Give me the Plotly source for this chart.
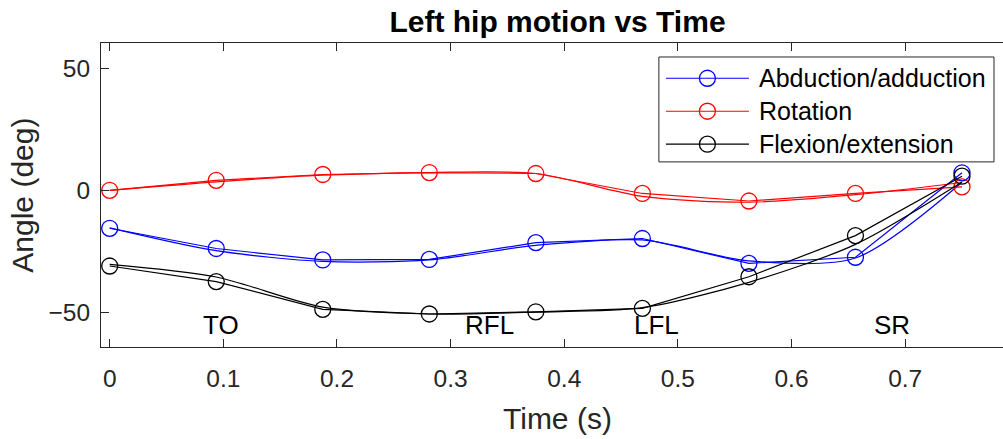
import plotly.graph_objects as go

# ---------------- data ----------------
time_s = [0.0, 0.09375, 0.1875, 0.28125, 0.375, 0.46875, 0.5625, 0.65625, 0.75]

abd_add = [-15.6, -23.9, -28.6, -28.4, -21.5, -19.8, -30.0, -27.5, 7.2]
rotation = [0.0, 4.1, 6.5, 7.3, 6.9, -1.3, -4.4, -1.3, 1.4]
flex_ext = [-31.1, -37.5, -48.9, -50.8, -49.9, -48.5, -35.5, -18.6, 5.8]

# companion (second) trace of each angle
abd_add_2 = [-15.4, -24.8, -29.2, -28.6, -22.6, -20.4, -29.0, -27.8, 3.3]
rotation_2 = [0.0, 3.5, 6.2, 7.3, 6.9, -2.5, -4.9, -1.8, 3.2]
flex_ext_2 = [-30.4, -35.6, -48.0, -50.8, -50.0, -48.2, -37.8, -22.2, 3.4]

series_names = ["Abduction/adduction", "Rotation", "Flexion/extension"]
series_colors = ["#0000ff", "#ff0000", "#000000"]

event_labels = ["TO", "RFL", "LFL", "SR"]
event_times = [0.0977, 0.334, 0.481, 0.688]
event_angles = [-55.5, -55.5, -55.5, -55.5]

x_ticks = [0, 0.1, 0.2, 0.3, 0.4, 0.5, 0.6, 0.7]
x_tick_text = ["0", "0.1", "0.2", "0.3", "0.4", "0.5", "0.6", "0.7"]
y_ticks = [-50, 0, 50]
y_tick_text = ["\u221250", "0", "50"]

# ---------------- layout geometry ----------------
W, H = 1003, 439
L_PX, R_PX, T_PX, B_PX = 101.3, 1003.0, 42.7, 347.0
FONT = "Liberation Sans, Arial, Helvetica, sans-serif"
AX_COL = "#262626"


def px2paper(px, py):
    return (px - L_PX) / (R_PX - L_PX), (B_PX - py) / (B_PX - T_PX)


fig = go.Figure()

main = [abd_add, rotation, flex_ext]
second = [abd_add_2, rotation_2, flex_ext_2]

for name, col, y1, y2 in zip(series_names, series_colors, main, second):
    fig.add_trace(go.Scatter(
        x=time_s, y=y2, mode="lines", name=name + " (2)",
        line=dict(color=col, width=1.2, shape="spline", smoothing=0.8),
        showlegend=False, hoverinfo="skip"))
    fig.add_trace(go.Scatter(
        x=time_s, y=y1, mode="lines+markers", name=name,
        line=dict(color=col, width=1.2),
        marker=dict(symbol="circle-open", size=16, color=col,
                    line=dict(color=col, width=1.3)),
        showlegend=False))

annotations = []
for lab, t, a in zip(event_labels, event_times, event_angles):
    annotations.append(dict(x=t, y=a, xref="x", yref="y", text=lab,
                            showarrow=False, xanchor="center", yanchor="middle",
                            font=dict(family=FONT, size=26, color="#000000")))

# axis titles
xl, yl = px2paper((L_PX + 1014) / 2, 419)
annotations.append(dict(x=xl, y=yl, xref="paper", yref="paper", text="Time (s)",
                        showarrow=False, xanchor="center", yanchor="middle",
                        font=dict(family=FONT, size=30, color=AX_COL)))
xa, ya = px2paper(22, (T_PX + B_PX) / 2)
annotations.append(dict(x=xa, y=ya, xref="paper", yref="paper", text="Angle (deg)",
                        showarrow=False, xanchor="center", yanchor="middle",
                        textangle=-90,
                        font=dict(family=FONT, size=30, color=AX_COL)))

# manual legend (MATLAB style)
shapes = []
bx0, by0 = px2paper(659, 56.7)
bx1, by1 = px2paper(994, 161.7)
shapes.append(dict(type="rect", xref="paper", yref="paper", x0=bx0, y0=by0,
                   x1=bx1, y1=by1, line=dict(color=AX_COL, width=1),
                   fillcolor="white", layer="above"))
row_y = [78, 111, 144]
for name, col, ry in zip(series_names, series_colors, row_y):
    lx0, ly = px2paper(666, ry)
    lx1, _ = px2paper(749, ry)
    mx, _ = px2paper(707.5, ry)
    tx, _ = px2paper(757, ry)
    shapes.append(dict(type="line", xref="paper", yref="paper", x0=lx0, x1=lx1,
                       y0=ly, y1=ly, line=dict(color=col, width=1.2), layer="above"))
    shapes.append(dict(type="circle", xref="paper", yref="paper",
                       xsizemode="pixel", ysizemode="pixel",
                       xanchor=mx, yanchor=ly, x0=-8, x1=8, y0=-8, y1=8,
                       line=dict(color=col, width=1.3), fillcolor="rgba(0,0,0,0)",
                       layer="above"))
    annotations.append(dict(x=tx, y=ly, xref="paper", yref="paper", text=name,
                            showarrow=False, xanchor="left", yanchor="middle",
                            font=dict(family=FONT, size=25, color="#000000")))

x_lo = (L_PX - 110.0) / 1136.0
x_hi = (R_PX - 110.0) / 1136.0
y_lo = -50 - (B_PX - 312.0) / 2.437
y_hi = 50 + (68.3 - T_PX) / 2.437

tx_title, _ = px2paper((L_PX + 1014) / 2, 0)

fig.update_layout(
    width=W, height=H,
    margin=dict(l=L_PX, r=W - R_PX, t=T_PX, b=H - B_PX, pad=0),
    paper_bgcolor="white", plot_bgcolor="white",
    showlegend=False,
    title=dict(text="<b>Left hip motion vs Time</b>", x=tx_title, xref="paper",
               xanchor="center", y=1 - 21 / H, yref="container", yanchor="middle",
               font=dict(family=FONT, size=30, color="#000000")),
    xaxis=dict(range=[x_lo, x_hi], tickvals=x_ticks, ticktext=x_tick_text,
               ticks="inside", ticklen=8, tickwidth=1, tickcolor=AX_COL,
               showline=True, linecolor=AX_COL, linewidth=1, mirror="ticks",
               showgrid=False, zeroline=False, ticklabelstandoff=10,
               tickfont=dict(family=FONT, size=24.5, color=AX_COL)),
    yaxis=dict(range=[y_lo, y_hi], tickvals=y_ticks, ticktext=y_tick_text,
               ticks="inside", ticklen=8, tickwidth=1, tickcolor=AX_COL,
               showline=True, linecolor=AX_COL, linewidth=1, mirror=False,
               showgrid=False, zeroline=False, ticklabelstandoff=5,
               tickfont=dict(family=FONT, size=24.5, color=AX_COL)),
    annotations=annotations,
    shapes=shapes,
)

fig.write_html("out.html")
